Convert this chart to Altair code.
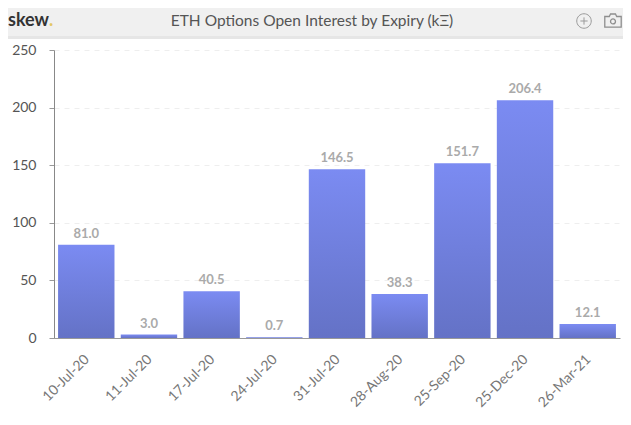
import altair as alt
import pandas as pd

expiries = ["10-Jul-20", "11-Jul-20", "17-Jul-20", "24-Jul-20", "31-Jul-20", "28-Aug-20", "25-Sep-20", "25-Dec-20", "26-Mar-21"]
open_interest = [81.0, 3.0, 40.5, 0.7, 146.5, 38.3, 151.7, 206.4, 12.1]
value_labels = ["81.0", "3.0", "40.5", "0.7", "146.5", "38.3", "151.7", "206.4", "12.1"]
y_ticks = [0, 50, 100, 150, 200, 250]
title_text = "ETH Options Open Interest by Expiry (kΞ)"
brand = "skew"
FONT = "Lato"

df = pd.DataFrame({"expiry": expiries, "oi": open_interest, "label": value_labels})

x = alt.X("expiry:N", sort=expiries, title=None,
          scale=alt.Scale(paddingInner=0.1, paddingOuter=0.065),
          axis=alt.Axis(labelAngle=-45, labelFont=FONT, labelFontSize=14, labelColor="#777777",
                        labelPadding=14, labelOffset=-4, ticks=False, domainColor="#999999",
                        grid=False, labelOverlap=False))
y = alt.Y("oi:Q", title=None, scale=alt.Scale(domain=[0, 250], nice=False),
          axis=alt.Axis(values=y_ticks, labelFont=FONT, labelFontSize=14, labelColor="#555555",
                        labelPadding=13, tickColor="#999999", tickSize=5, domainColor="#888888",
                        grid=True, gridColor="#eeeeee", gridDash=[5, 5]))

grad = alt.Gradient(gradient="linear", x1=0, x2=0, y1=0, y2=1,
                    stops=[alt.GradientStop(offset=0, color="#7b8bf2"),
                           alt.GradientStop(offset=1, color="#6472c6")])

bars = alt.Chart(df).mark_bar(color=grad).encode(x=x, y=y)
labels = alt.Chart(df).mark_text(font=FONT, fontSize=13, fontWeight="bold", color="#aaaaaa",
                                 baseline="bottom", dy=-4).encode(
    x=alt.X("expiry:N", sort=expiries), y=alt.Y("oi:Q"), text="label:N")

one = pd.DataFrame({"a": [0]})
hdr = alt.Chart(one).mark_rect(color="#f0f0f0").encode(
    x=alt.value(-46), x2=alt.value(569), y=alt.value(-42), y2=alt.value(-14))
hdr_line = alt.Chart(one).mark_rect(color="#e6e6e6").encode(
    x=alt.value(-46), x2=alt.value(569), y=alt.value(-14), y2=alt.value(-11))
t_title = alt.Chart(one).mark_text(font=FONT, fontSize=15.5, color="#555555", align="center", baseline="middle").encode(
    x=alt.value(258), y=alt.value(-29), text=alt.value(title_text))
t_brand = alt.Chart(one).mark_text(font=FONT, fontSize=18, fontWeight="bold", color="#333333", align="left", baseline="middle").encode(
    x=alt.value(-46), y=alt.value(-29), text=alt.value(brand))
t_dot = alt.Chart(one).mark_text(font=FONT, fontSize=18, fontWeight="bold", color="#e3c766", align="left", baseline="middle").encode(
    x=alt.value(-5), y=alt.value(-29), text=alt.value("."))
plus_icon = alt.Chart(one).mark_point(shape="M-1,0A1,1 0 1,1 1,0A1,1 0 1,1 -1,0M-0.5,0L0.5,0M0,-0.5L0,0.5",
                                      size=210, stroke="#777777", strokeWidth=1, filled=False).encode(
    x=alt.value(530), y=alt.value(-29))
cam_icon = alt.Chart(one).mark_point(
    shape="M-1,-0.55L-0.45,-0.55L-0.3,-0.85L0.3,-0.85L0.45,-0.55L1,-0.55L1,0.75L-1,0.75ZM-0.3,0.05A0.3,0.3 0 1,1 0.3,0.05A0.3,0.3 0 1,1 -0.3,0.05",
    size=270, stroke="#666666", strokeWidth=1.3, filled=False).encode(x=alt.value(559), y=alt.value(-29))

chart = alt.layer(hdr, hdr_line, t_title, t_brand, t_dot, plus_icon, cam_icon, bars, labels).properties(
    width=566, height=288,
    padding={"left": 46, "top": 42, "right": 3, "bottom": 76},
    autosize=alt.AutoSizeParams(type="none", contains="content"),
).configure_view(stroke=None)

chart.save("out.html", embed_options={"renderer": "svg", "actions": False})
